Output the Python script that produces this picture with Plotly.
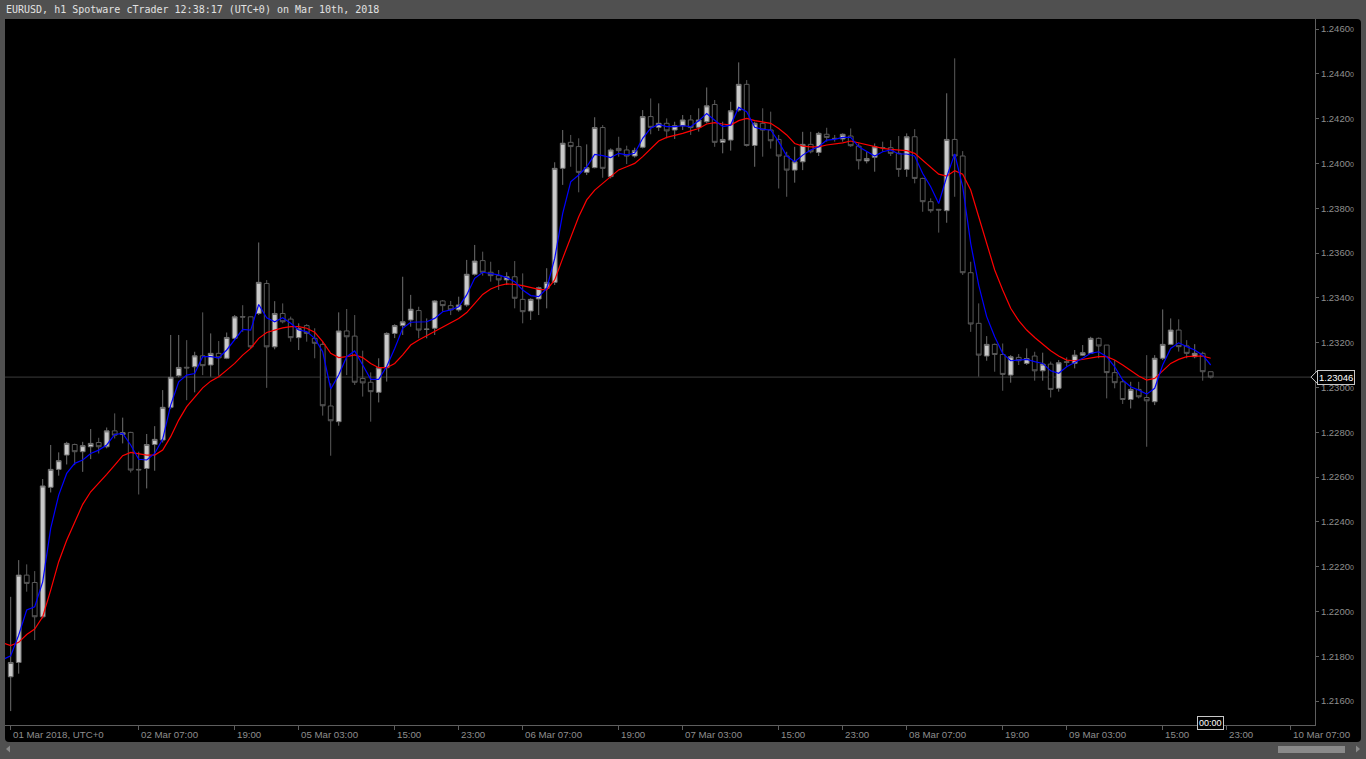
import plotly.graph_objects as go

# ---------------- data (EURUSD h1, bar index 0 = 01 Mar 15:00) ----------------
bar_index = list(range(151))

open_ = [
    1.21708, 1.21772, 1.22162, 1.22129, 1.21976, 1.22554, 1.22634, 1.22698, 1.22745, 1.22713,
    1.22735, 1.22754, 1.22735, 1.22806, 1.22790, 1.22799, 1.22634, 1.22638, 1.22745, 1.22765,
    1.22911, 1.23052, 1.23090, 1.23092, 1.23141, 1.23100, 1.23152, 1.23130, 1.23219, 1.23316,
    1.23315, 1.23330, 1.23464, 1.23181, 1.23330, 1.23305, 1.23222, 1.23276, 1.23219, 1.23192,
    1.22917, 1.22847, 1.23252, 1.23229, 1.23040, 1.23023, 1.22978, 1.23088, 1.23241, 1.23276,
    1.23301, 1.23343, 1.23259, 1.23264, 1.23386, 1.23365, 1.23346, 1.23368, 1.23505, 1.23566,
    1.23514, 1.23499, 1.23480, 1.23494, 1.23393, 1.23341, 1.23395, 1.23442, 1.23469, 1.23978,
    1.24094, 1.24075, 1.23960, 1.23981, 1.24160, 1.23941, 1.24067, 1.24060, 1.24033, 1.24072,
    1.24209, 1.24161, 1.24179, 1.24149, 1.24168, 1.24194, 1.24161, 1.24186, 1.24263, 1.24094,
    1.24104, 1.24238, 1.24353, 1.24080, 1.24179, 1.24149, 1.24107, 1.24033, 1.23970, 1.24007,
    1.24085, 1.24049, 1.24130, 1.24112, 1.24109, 1.24122, 1.24077, 1.24011, 1.24027, 1.24071,
    1.24070, 1.24045, 1.23973, 1.24119, 1.23933, 1.23829, 1.23795, 1.23789, 1.24107, 1.24033,
    1.23512, 1.23286, 1.23140, 1.23192, 1.23147, 1.23055, 1.23134, 1.23107, 1.23140, 1.23074,
    1.23104, 1.22996, 1.23115, 1.23107, 1.23144, 1.23152, 1.23219, 1.23189, 1.23066, 1.23025,
    1.22946, 1.22991, 1.22955, 1.22936, 1.23130, 1.23192, 1.23256, 1.23185, 1.23137, 1.23152, 1.23070,
]
high = [
    1.22065, 1.22229, 1.22210, 1.22180, 1.22591, 1.22743, 1.22710, 1.22757, 1.22749, 1.22757,
    1.22814, 1.22775, 1.22821, 1.22884, 1.22865, 1.22802, 1.22713, 1.22792, 1.22827, 1.22988,
    1.23234, 1.23234, 1.23211, 1.23159, 1.23335, 1.23241, 1.23207, 1.23245, 1.23323, 1.23367,
    1.23316, 1.23647, 1.23479, 1.23385, 1.23375, 1.23316, 1.23286, 1.23282, 1.23264, 1.23204,
    1.23018, 1.23335, 1.23350, 1.23323, 1.23164, 1.23067, 1.23130, 1.23246, 1.23282, 1.23494,
    1.23413, 1.23360, 1.23308, 1.23390, 1.23390, 1.23386, 1.23405, 1.23569, 1.23636, 1.23606,
    1.23561, 1.23524, 1.23514, 1.23564, 1.23509, 1.23398, 1.23450, 1.23532, 1.24005, 1.24149,
    1.24127, 1.24112, 1.24085, 1.24206, 1.24171, 1.24067, 1.24119, 1.24079, 1.24070, 1.24238,
    1.24290, 1.24268, 1.24201, 1.24186, 1.24216, 1.24216, 1.24246, 1.24339, 1.24283, 1.24186,
    1.24275, 1.24451, 1.24372, 1.24186, 1.24246, 1.24231, 1.24127, 1.24052, 1.24074, 1.24141,
    1.24141, 1.24141, 1.24159, 1.24127, 1.24134, 1.24156, 1.24089, 1.24052, 1.24089, 1.24097,
    1.24104, 1.24122, 1.24134, 1.24153, 1.23936, 1.23844, 1.23795, 1.24313, 1.24469, 1.24055,
    1.23561, 1.23375, 1.23229, 1.23196, 1.23196, 1.23144, 1.23149, 1.23174, 1.23159, 1.23155,
    1.23115, 1.23122, 1.23134, 1.23167, 1.23189, 1.23226, 1.23223, 1.23189, 1.23122, 1.23033,
    1.23025, 1.23025, 1.23144, 1.23144, 1.23348, 1.23308, 1.23304, 1.23211, 1.23193, 1.23159, 1.23070,
]
low = [
    1.21555, 1.21722, 1.22088, 1.21872, 1.21969, 1.22531, 1.22606, 1.22656, 1.22653, 1.22623,
    1.22680, 1.22705, 1.22728, 1.22772, 1.22750, 1.22620, 1.22522, 1.22549, 1.22628, 1.22754,
    1.22903, 1.23045, 1.22943, 1.22978, 1.23055, 1.23048, 1.23052, 1.23126, 1.23211, 1.23248,
    1.23174, 1.23323, 1.22998, 1.23170, 1.23286, 1.23204, 1.23167, 1.23204, 1.23130, 1.22874,
    1.22695, 1.22829, 1.23055, 1.23011, 1.22959, 1.22847, 1.22933, 1.23026, 1.23220, 1.23234,
    1.23271, 1.23219, 1.23219, 1.23234, 1.23338, 1.23323, 1.23338, 1.23360, 1.23499, 1.23499,
    1.23472, 1.23435, 1.23457, 1.23353, 1.23286, 1.23301, 1.23323, 1.23353, 1.23457, 1.23904,
    1.23985, 1.23871, 1.23948, 1.23978, 1.23936, 1.23933, 1.24030, 1.23997, 1.24026, 1.24067,
    1.24130, 1.24145, 1.24112, 1.24109, 1.24149, 1.24127, 1.24142, 1.24179, 1.24074, 1.24045,
    1.24057, 1.24231, 1.24075, 1.23985, 1.24030, 1.24066, 1.23888, 1.23851, 1.23914, 1.23970,
    1.24045, 1.24033, 1.24097, 1.24097, 1.24097, 1.24074, 1.23973, 1.24000, 1.23963, 1.24052,
    1.24033, 1.23940, 1.23940, 1.23911, 1.23784, 1.23780, 1.23691, 1.23735, 1.23851, 1.23502,
    1.23248, 1.23048, 1.23119, 1.23070, 1.22985, 1.23021, 1.23100, 1.23100, 1.23030, 1.23030,
    1.22955, 1.22981, 1.23092, 1.23085, 1.23140, 1.23149, 1.23130, 1.22951, 1.22996, 1.22926,
    1.22906, 1.22951, 1.22735, 1.22921, 1.23122, 1.23189, 1.23160, 1.23130, 1.23130, 1.23030, 1.23040,
]
close = [
    1.21772, 1.22162, 1.22125, 1.21976, 1.22560, 1.22634, 1.22673, 1.22750, 1.22713, 1.22740,
    1.22750, 1.22735, 1.22806, 1.22787, 1.22798, 1.22631, 1.22632, 1.22745, 1.22768, 1.22911,
    1.23045, 1.23089, 1.23087, 1.23141, 1.23097, 1.23152, 1.23132, 1.23223, 1.23315, 1.23314,
    1.23181, 1.23469, 1.23181, 1.23330, 1.23293, 1.23222, 1.23263, 1.23241, 1.23197, 1.22918,
    1.22851, 1.23252, 1.23226, 1.23023, 1.23020, 1.22981, 1.23088, 1.23241, 1.23276, 1.23293,
    1.23349, 1.23256, 1.23260, 1.23386, 1.23365, 1.23346, 1.23368, 1.23505, 1.23564, 1.23514,
    1.23499, 1.23480, 1.23494, 1.23398, 1.23338, 1.23393, 1.23445, 1.23469, 1.23978, 1.24090,
    1.24075, 1.23960, 1.23981, 1.24160, 1.23978, 1.24060, 1.24057, 1.24033, 1.24058, 1.24209,
    1.24161, 1.24179, 1.24145, 1.24168, 1.24194, 1.24160, 1.24194, 1.24257, 1.24094, 1.24107,
    1.24235, 1.24353, 1.24080, 1.24179, 1.24149, 1.24101, 1.24033, 1.23970, 1.24007, 1.24085,
    1.24052, 1.24134, 1.24116, 1.24111, 1.24130, 1.24079, 1.24012, 1.24022, 1.24074, 1.24070,
    1.24045, 1.23973, 1.24119, 1.23933, 1.23829, 1.23789, 1.23792, 1.24107, 1.24033, 1.23512,
    1.23283, 1.23144, 1.23192, 1.23147, 1.23058, 1.23137, 1.23119, 1.23129, 1.23074, 1.23104,
    1.22991, 1.23110, 1.23112, 1.23144, 1.23155, 1.23219, 1.23185, 1.23066, 1.23021, 1.22946,
    1.22991, 1.22958, 1.22940, 1.23130, 1.23192, 1.23256, 1.23182, 1.23152, 1.23152, 1.23070, 1.23046,
]

# indicator lines (index -1 .. 150)
ma_index = list(range(-1, 151))
ma_fast = [
    1.21785,
    1.21802, 1.21894, 1.22006, 1.22021, 1.22132, 1.22371, 1.22519, 1.22616, 1.22661, 1.22676,
    1.22705, 1.22720, 1.22743, 1.22790, 1.22795, 1.22743, 1.22679, 1.22676, 1.22705, 1.22769,
    1.22921, 1.23025, 1.23055, 1.23062, 1.23137, 1.23137, 1.23132, 1.23167, 1.23211, 1.23259,
    1.23256, 1.23370, 1.23311, 1.23293, 1.23311, 1.23286, 1.23256, 1.23249, 1.23219, 1.23159,
    1.22993, 1.23055, 1.23137, 1.23163, 1.23100, 1.23036, 1.23036, 1.23093, 1.23174, 1.23264,
    1.23291, 1.23293, 1.23293, 1.23308, 1.23338, 1.23346, 1.23360, 1.23413, 1.23487, 1.23514,
    1.23509, 1.23502, 1.23490, 1.23472, 1.23435, 1.23410, 1.23405, 1.23442, 1.23576, 1.23777,
    1.23918, 1.23948, 1.23985, 1.24040, 1.24035, 1.24026, 1.24045, 1.24038, 1.24045, 1.24112,
    1.24157, 1.24174, 1.24164, 1.24164, 1.24168, 1.24164, 1.24190, 1.24223, 1.24193, 1.24164,
    1.24171, 1.24250, 1.24231, 1.24161, 1.24152, 1.24149, 1.24097, 1.24033, 1.24007, 1.24037,
    1.24060, 1.24074, 1.24104, 1.24107, 1.24116, 1.24116, 1.24074, 1.24052, 1.24033, 1.24052,
    1.24060, 1.24042, 1.24042, 1.24033, 1.23955, 1.23896, 1.23821, 1.23940, 1.24042, 1.23896,
    1.23643, 1.23457, 1.23316, 1.23226, 1.23152, 1.23119, 1.23122, 1.23125, 1.23115, 1.23107,
    1.23074, 1.23063, 1.23092, 1.23110, 1.23130, 1.23152, 1.23159, 1.23137, 1.23092, 1.23033,
    1.23003, 1.22988, 1.22970, 1.22996, 1.23100, 1.23174, 1.23199, 1.23182, 1.23167, 1.23144, 1.23100,
]
ma_slow = [
    1.21860,
    1.21847, 1.21862, 1.21897, 1.21921, 1.21976, 1.22095, 1.22222, 1.22318, 1.22400, 1.22478,
    1.22534, 1.22571, 1.22612, 1.22653, 1.22695, 1.22710, 1.22705, 1.22698, 1.22698, 1.22720,
    1.22780, 1.22854, 1.22914, 1.22954, 1.22998, 1.23028, 1.23048, 1.23077, 1.23107, 1.23144,
    1.23174, 1.23219, 1.23245, 1.23256, 1.23266, 1.23271, 1.23271, 1.23264, 1.23246, 1.23204,
    1.23152, 1.23133, 1.23137, 1.23145, 1.23133, 1.23107, 1.23088, 1.23088, 1.23107, 1.23145,
    1.23189, 1.23212, 1.23231, 1.23249, 1.23267, 1.23286, 1.23308, 1.23334, 1.23375, 1.23415,
    1.23439, 1.23454, 1.23462, 1.23460, 1.23454, 1.23447, 1.23438, 1.23435, 1.23480, 1.23576,
    1.23673, 1.23762, 1.23837, 1.23881, 1.23911, 1.23941, 1.23971, 1.23985, 1.24000, 1.24030,
    1.24067, 1.24100, 1.24116, 1.24124, 1.24134, 1.24145, 1.24156, 1.24176, 1.24182, 1.24176,
    1.24171, 1.24191, 1.24201, 1.24191, 1.24186, 1.24179, 1.24156, 1.24127, 1.24089, 1.24077,
    1.24074, 1.24074, 1.24082, 1.24086, 1.24092, 1.24100, 1.24092, 1.24082, 1.24074, 1.24067,
    1.24063, 1.24060, 1.24057, 1.24045, 1.24015, 1.23982, 1.23952, 1.23943, 1.23967, 1.23952,
    1.23881, 1.23762, 1.23643, 1.23524, 1.23435, 1.23353, 1.23298, 1.23256, 1.23223, 1.23194,
    1.23164, 1.23140, 1.23122, 1.23119, 1.23125, 1.23134, 1.23137, 1.23137, 1.23122, 1.23100,
    1.23074, 1.23051, 1.23033, 1.23040, 1.23074, 1.23107, 1.23125, 1.23137, 1.23140, 1.23140, 1.23130,
]

current_price = 1.23046
current_price_text = "1.23046"

x_tick_index = [0, 16, 28, 36, 48, 56, 64, 76, 84, 96, 104, 112, 124, 132, 144, 152, 160]
x_tick_text = ["01 Mar 2018, UTC+0", "02 Mar 07:00", "19:00", "05 Mar 03:00", "15:00", "23:00",
               "06 Mar 07:00", "19:00", "07 Mar 03:00", "15:00", "23:00", "08 Mar 07:00",
               "19:00", "09 Mar 03:00", "15:00", "23:00", "10 Mar 07:00"]
y_tick_values = [1.2160, 1.2180, 1.2200, 1.2220, 1.2240, 1.2260, 1.2280, 1.2300,
                 1.2320, 1.2340, 1.2360, 1.2380, 1.2400, 1.2420, 1.2440, 1.2460]
title_text = "EURUSD, h1 Spotware cTrader 12:38:17 (UTC+0) on Mar 10th, 2018"
countdown_text = "00:00"

# ---------------- layout geometry (pixels) ----------------
W_FIG, H_FIG = 1366, 759
L, R, T, B = 5, 1315, 19, 725
PW, PH = R - L, B - T


def px(x):
    return (x - L) / PW


def py(y):
    return (B - y) / PH


FRAME = "#505050"
AXIS_GRAY = "#5e5e5e"
LABEL_GRAY = "#8e8e8e"

fig = go.Figure()

fig.add_trace(go.Candlestick(
    x=bar_index, open=open_, high=high, low=low, close=close,
    increasing=dict(line=dict(color="#6e6e6e", width=1), fillcolor="#c9c9c9"),
    decreasing=dict(line=dict(color="#5a5a5a", width=1), fillcolor="#000000"),
    whiskerwidth=0, hoverinfo="none", showlegend=False,
))
fig.add_trace(go.Scatter(x=ma_index, y=ma_slow, mode="lines",
                         line=dict(color="#ff0000", width=1.2), hoverinfo="skip", showlegend=False))
fig.add_trace(go.Scatter(x=ma_index, y=ma_fast, mode="lines",
                         line=dict(color="#0000ff", width=1.2), hoverinfo="skip", showlegend=False))

y_tick_text = [f"{v:.4f}<span style='font-size:7px'>0</span>" for v in y_tick_values]

# rounded black chart background
x0, x1, y0, y1 = px(5), px(1361), py(742), py(19)
rx, ry = 4 / PW, 4 / PH
bg_path = (f"M {x0+rx},{y1} L {x1-rx},{y1} Q {x1},{y1} {x1},{y1-ry} "
           f"L {x1},{y0+ry} Q {x1},{y0} {x1-rx},{y0} L {x0+rx},{y0} "
           f"Q {x0},{y0} {x0},{y0+ry} L {x0},{y1-ry} Q {x0},{y1} {x0+rx},{y1} Z")

shapes = [
    dict(type="path", xref="paper", yref="paper", path=bg_path,
         fillcolor="#000000", line=dict(width=0), layer="below"),
    dict(type="line", xref="paper", yref="y", x0=0, x1=1, y0=current_price, y1=current_price,
         line=dict(color="#3c3c3c", width=1), layer="below"),
    # price label pointer
    dict(type="path", xref="paper", yref="y",
         path=(f"M {px(1318)},{current_price + 7/22400} L {px(1311)},{current_price} "
               f"L {px(1318)},{current_price - 7/22400} Z"),
         fillcolor="#000000", line=dict(color="#c8c8c8", width=1), layer="above"),
    # scrollbar thumb
    dict(type="rect", xref="paper", yref="paper", x0=px(1278), x1=px(1345), y0=py(753), y1=py(746),
         fillcolor="#8a8a8a", line=dict(width=0), layer="above"),
    # scrollbar arrows
    dict(type="path", xref="paper", yref="paper",
         path=f"M {px(6)},{py(749)} L {px(10)},{py(745.5)} L {px(10)},{py(752.5)} Z",
         fillcolor="#8a8a8a", line=dict(width=0), layer="above"),
    dict(type="path", xref="paper", yref="paper",
         path=f"M {px(1360)},{py(749)} L {px(1356)},{py(745.5)} L {px(1356)},{py(752.5)} Z",
         fillcolor="#8a8a8a", line=dict(width=0), layer="above"),
]

annotations = [
    dict(text=title_text, xref="paper", yref="paper", x=px(4), y=py(10),
         xanchor="left", yanchor="middle", showarrow=False,
         font=dict(family="DejaVu Sans Mono", size=10, color="#e2e2e2")),
    dict(text=current_price_text, xref="paper", yref="y", x=px(1317), y=current_price,
         xanchor="left", yanchor="middle", showarrow=False,
         bgcolor="#000000", bordercolor="#c8c8c8", borderwidth=1, borderpad=1,
         font=dict(family="Liberation Sans, Arial", size=9.5, color="#ffffff")),
    dict(text=countdown_text, xref="x", yref="paper", x=bar_index[-1], y=py(723),
         xanchor="center", yanchor="middle", showarrow=False,
         bgcolor="#000000", bordercolor="#c8c8c8", borderwidth=1, borderpad=1,
         font=dict(family="Liberation Sans, Arial", size=9, color="#ffffff")),
]
for idx, txt in zip(x_tick_index, x_tick_text):
    annotations.append(dict(text=txt, xref="x", yref="paper", x=idx, y=py(734),
                            xanchor="left", yanchor="middle", xshift=0, showarrow=False,
                            font=dict(family="Liberation Sans, Arial", size=9.7, color=LABEL_GRAY)))

fig.update_layout(
    width=W_FIG, height=H_FIG, autosize=False,
    margin=dict(l=L, r=W_FIG - R, t=T, b=H_FIG - B, pad=0),
    paper_bgcolor=FRAME, plot_bgcolor="#000000",
    showlegend=False, hovermode=False,
    boxgap=0.3, boxgroupgap=0.15,
    shapes=shapes, annotations=annotations,
    xaxis=dict(
        range=[(L - 10.7) / 8, (R - 10.7) / 8], rangeslider=dict(visible=False),
        showgrid=False, zeroline=False, showline=True, linecolor=AXIS_GRAY, linewidth=1,
        ticks="outside", ticklen=4, tickcolor=AXIS_GRAY, tickvals=x_tick_index,
        showticklabels=False, fixedrange=True,
    ),
    yaxis=dict(
        range=[1.2460 - (B - 29) / 22400, 1.2460 + (29 - T) / 22400],
        side="right", showgrid=False, zeroline=False, showline=True,
        linecolor=AXIS_GRAY, linewidth=1, ticks="outside", ticklen=3, tickcolor=AXIS_GRAY,
        tickvals=y_tick_values, ticktext=y_tick_text,
        tickfont=dict(family="Liberation Sans, Arial", size=9.5, color=LABEL_GRAY),
        fixedrange=True,
    ),
)

fig.write_html(
    "out.html",
    config=dict(displayModeBar=False),
    post_script="document.body.style.margin='0px';document.body.style.overflow='hidden';",
)
